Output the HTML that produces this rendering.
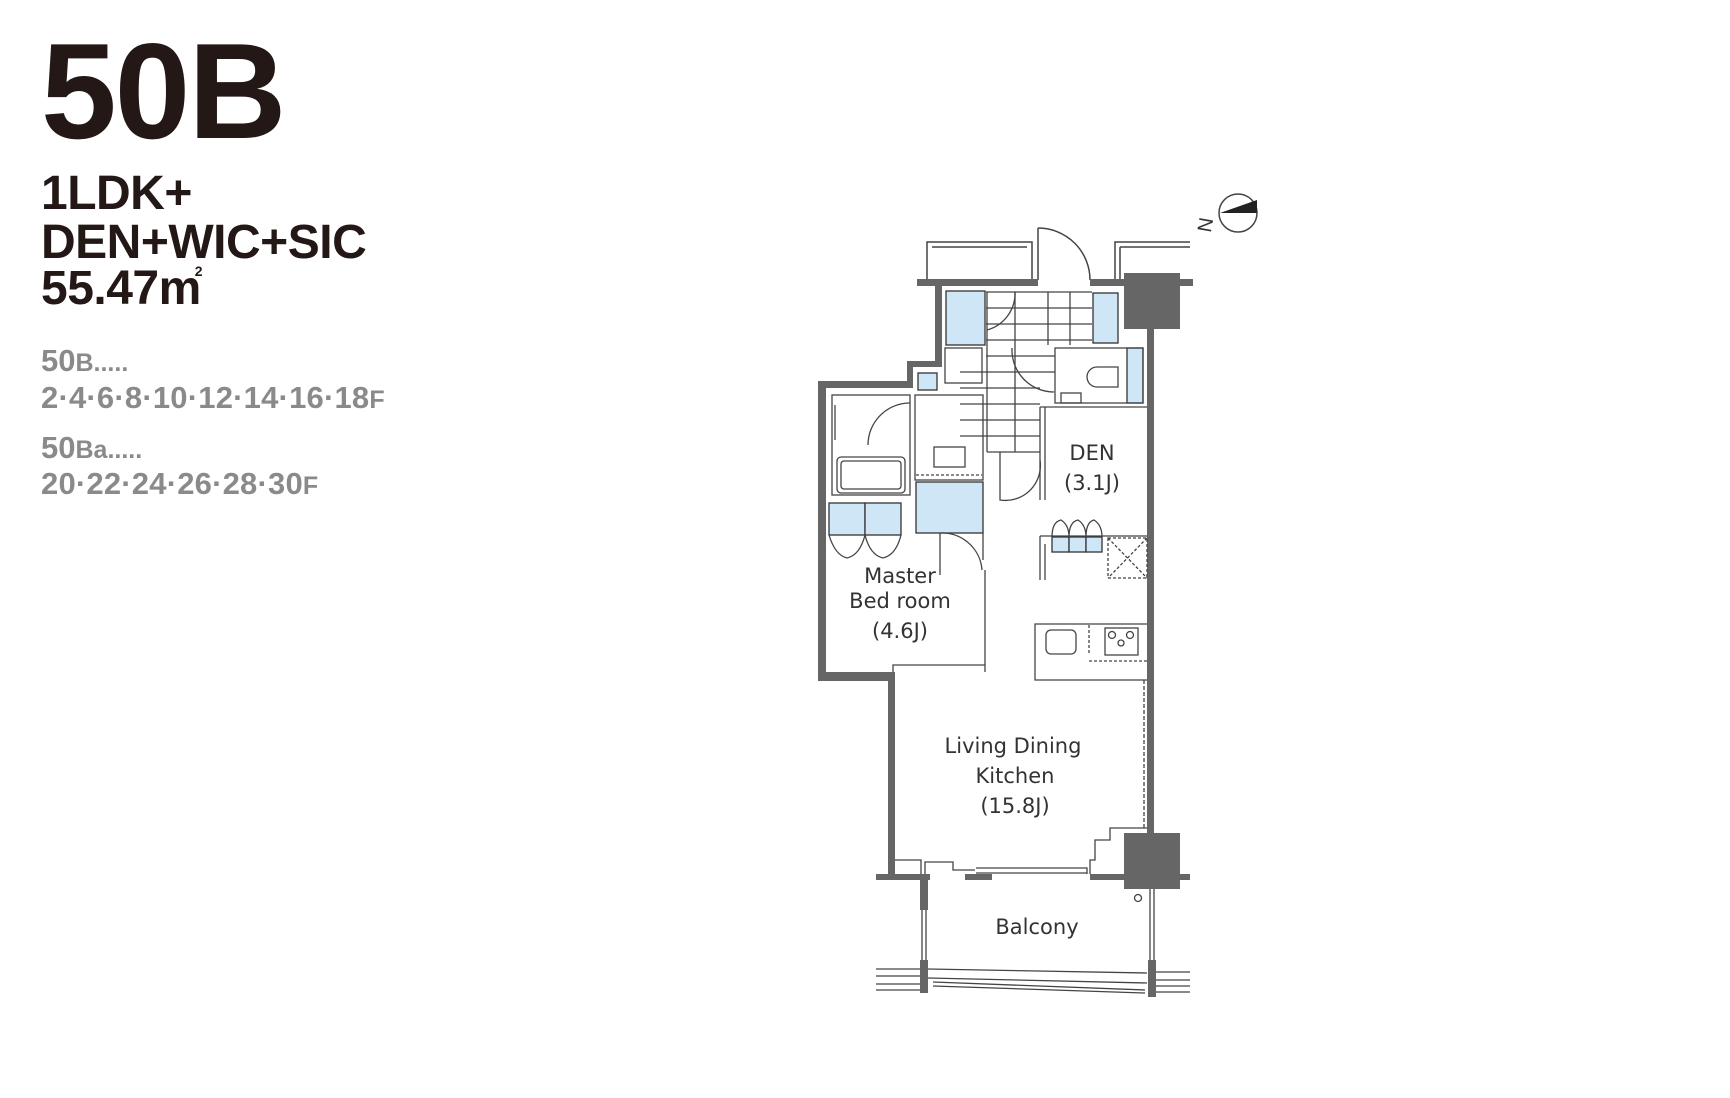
<!DOCTYPE html>
<html><head><meta charset="utf-8"><style>
html,body{margin:0;padding:0;background:#fff;}
body{width:1730px;height:1098px;position:relative;overflow:hidden;font-family:"Liberation Sans",sans-serif;}
.t{position:absolute;left:41px;margin:0;white-space:nowrap;font-weight:bold;}
</style></head><body>
<div class="t" style="top:16px;font-size:136px;letter-spacing:-2px;color:#231815;line-height:150px;">50B</div>
<div class="t" style="top:169px;font-size:48px;letter-spacing:-0.5px;color:#231815;line-height:50px;">1LDK+</div>
<div class="t" style="top:218px;font-size:48px;letter-spacing:-0.5px;color:#231815;line-height:50px;">DEN+WIC+SIC</div>
<div class="t" style="top:264px;font-size:48px;letter-spacing:-0.5px;color:#231815;line-height:50px;">55.47m<span style="font-size:14px;position:relative;top:-28px;left:-6px">2</span></div>
<div class="t" style="top:345px;font-size:31px;color:#8a8a8a;line-height:32px;">50<span style="font-size:25px">B.....</span></div>
<div class="t" style="top:382px;font-size:31px;letter-spacing:0.2px;color:#8a8a8a;line-height:32px;">2·4·6·8·10·12·14·16·18<span style="font-size:25px">F</span></div>
<div class="t" style="top:432px;font-size:31px;color:#8a8a8a;line-height:32px;">50<span style="font-size:25px">Ba.....</span></div>
<div class="t" style="top:468px;font-size:31px;letter-spacing:0.2px;color:#8a8a8a;line-height:32px;">20·22·24·26·28·30<span style="font-size:25px">F</span></div>

<svg width="1730" height="1098" style="position:absolute;left:0;top:0" xmlns="http://www.w3.org/2000/svg">
<g fill="none" stroke="#444" stroke-width="1.5">
 <rect x="927" y="242" width="105" height="38"/><line x1="932" y1="247" x2="1027" y2="247"/>
 <path d="M1190 242 H1115 V280 M1120 247 H1190 M1120 247 V280"/>
 <line x1="1038" y1="280" x2="1038" y2="228"/><path d="M1038 228 A52 52 0 0 1 1090 280"/>
 <circle cx="1238" cy="213" r="19" fill="#fff"/>
</g>
<text x="0" y="0" transform="translate(1212,226) rotate(-80)" font-family="Liberation Sans,sans-serif" font-size="20" fill="#333" text-anchor="middle">N</text>
<path d="M1220 213 L1257 200 L1257 213 Z" fill="#222"/>
<g fill="#666">
 <rect x="917" y="279" width="121" height="7"/><rect x="1090" y="279" width="103" height="7"/>
 <rect x="1124" y="273" width="56" height="56"/>
 <rect x="1147" y="329" width="7" height="505"/>
 <rect x="935" y="286" width="7" height="80"/>
 <rect x="907" y="361" width="35" height="6"/>
 <rect x="907" y="361" width="6" height="27"/>
 <rect x="818" y="381" width="95" height="7"/>
 <rect x="818" y="381" width="8" height="300"/>
 <rect x="818" y="672" width="77" height="9"/>
 <rect x="888" y="672" width="7" height="204"/>
 <rect x="876" y="874" width="54" height="6"/>
 <rect x="965" y="874" width="27" height="6"/>
 <rect x="1090" y="874" width="100" height="6"/>
 <rect x="1124" y="833" width="56" height="56"/>
 <rect x="920" y="880" width="8" height="30"/>
 <rect x="920" y="960" width="8" height="33"/>
 <rect x="1148" y="960" width="8" height="37"/>
</g>
<g fill="#cfe6f6" stroke="#333" stroke-width="1.3">
 <rect x="946" y="291" width="39" height="54"/>
 <rect x="1093" y="293" width="25" height="50"/>
 <rect x="1127" y="348" width="16" height="55"/>
 <rect x="918" y="373" width="19" height="17"/>
 <rect x="916" y="482" width="67" height="51"/>
 <rect x="829" y="503" width="36" height="32"/><rect x="865" y="503" width="36" height="32"/>
 <rect x="1052" y="537" width="17" height="15"/><rect x="1069" y="537" width="17" height="15"/><rect x="1086" y="537" width="16" height="15"/>
</g>
<g fill="none" stroke="#444" stroke-width="1.3">
 <path d="M986 292 H1092 M986 308 H1092 M986 324 H1092 M986 340 H1092 M986 356 H1055 M960 372 H1055 M960 388 H1040 M960 404 H1040 M960 420 H1040 M960 436 H1040 M987 452 H1040"/>
 <path d="M1015 292 V452 M1048 292 V345 M1070 292 V345 M987 292 V452"/>
 <path d="M1015 292 A38 38 0 0 1 987 330"/>
 <path d="M1012 348 A42 42 0 0 0 1054 392"/>
 <rect x="1055" y="348" width="88" height="55"/>
 <path d="M1118 367 H1097 A10 10 0 0 0 1097 387 H1118 Z"/>
 <rect x="1061" y="393" width="20" height="10"/>
 <rect x="945" y="348" width="37" height="35"/>
 <rect x="832" y="395" width="78" height="100"/>
 <rect x="837" y="457" width="68" height="36" rx="4"/><rect x="841" y="461" width="60" height="28" rx="3"/>
 <line x1="835" y1="405" x2="835" y2="440"/>
 <path d="M910 403 A42 42 0 0 0 868 445"/>
 <rect x="915" y="395" width="68" height="85"/>
 <rect x="934" y="447" width="31" height="20"/>
 <line x1="916" y1="475" x2="982" y2="475" stroke-dasharray="3 2"/>
 <path d="M940 533 A40 40 0 0 1 982 570 M940 533 V575"/>
 <path d="M829 535 Q835 555 847 558 M865 535 Q860 555 847 558 M865 535 Q870 555 883 558 M901 535 Q896 555 883 558"/>
 <path d="M983 533 V560 M985 570 V672 M893 672 V665 H985"/>
 <path d="M1000 452 V500 A35 35 0 0 0 1040 460"/>
 <path d="M1040 407 H1147 M1040 407 V500 M1045 407 V500 M1040 536 H1147 M1040 536 V580 M1045 544 V580"/>
 <path d="M1052 537 Q1052 522 1061 520 Q1069 525 1069 537 M1069 537 Q1069 522 1078 520 Q1086 525 1086 537 M1086 537 Q1086 522 1094 520 Q1102 525 1102 537"/>
 <rect x="1108" y="538" width="39" height="40" stroke-dasharray="3 2"/>
 <path d="M1108 538 L1147 578 M1147 538 L1108 578" stroke-dasharray="3 2"/>
 <path d="M1147 624 H1035 V680 H1147"/>
 <rect x="1046" y="630" width="30" height="24" rx="5"/>
 <rect x="1105" y="628" width="33" height="27"/>
 <circle cx="1112" cy="635" r="3.5"/><circle cx="1130" cy="635" r="3.5"/><circle cx="1121" cy="643" r="3"/>
 <path d="M1089 625 V655 M1089 661 H1147" stroke-dasharray="3 2"/>
 <path d="M1144 680 V830" stroke-dasharray="4 2"/>
 <path d="M895 860 H921 V874 M925 874 V862 H953 V870 H975 M976 868 H1087 V874 M976 873 H1087"/>
 <path d="M1090 874 V860 H1095 V840 H1110 V828 H1147"/>
 <path d="M922 910 V960 M926 910 V960 M1150 889 V960 M1154 889 V960"/>
 <circle cx="1138" cy="898" r="3.5"/>
 <path d="M876 969 H920 M876 976 H920 M876 984 H920 M876 990 H920"/>
 <path d="M928 969 L1147 973 M928 978 L1147 983 M933 982 L1145 990 M933 986 L1145 993"/>
 <path d="M1156 972 H1190 M1156 980 H1190 M1156 986 H1190 M1156 992 H1190"/>
</g>
<g font-family="'DejaVu Sans','Liberation Sans',sans-serif" fill="#333" font-size="21" text-anchor="middle">
 <text x="1092" y="460">DEN</text><text x="1092" y="490">(3.1J)</text>
 <text x="900" y="583">Master</text><text x="900" y="608">Bed room</text><text x="900" y="638">(4.6J)</text>
 <text x="1013" y="753">Living Dining</text><text x="1015" y="783">Kitchen</text><text x="1015" y="813">(15.8J)</text>
 <text x="1037" y="934">Balcony</text>
</g>
</svg>
</body></html>
